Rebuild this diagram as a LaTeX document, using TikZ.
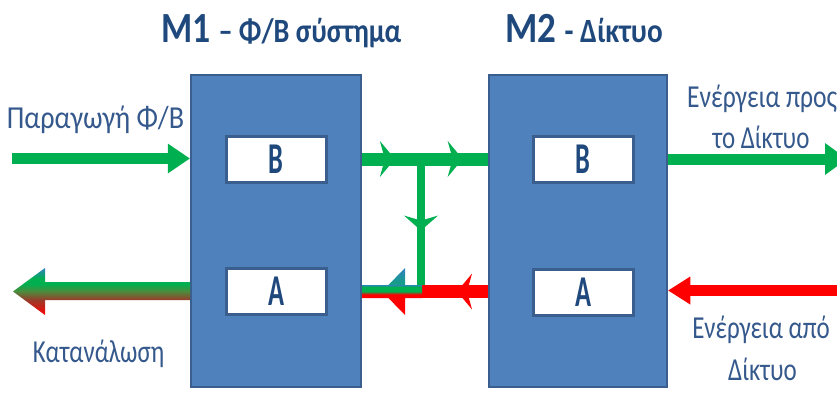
\documentclass[tikz,border=0pt]{standalone}
\usepackage{fontspec}
\usepackage{graphicx}
\setmainfont{Carlito}
\usetikzlibrary{arrows.meta,decorations.markings}

\definecolor{panelfill}{HTML}{4F81BD}
\definecolor{panelline}{HTML}{3A5F8E}
\definecolor{titleblue}{HTML}{1F497D}
\definecolor{labelblue}{HTML}{35598C}
\definecolor{flowgreen}{HTML}{00B050}
\definecolor{flowred}{HTML}{FF0000}
\definecolor{mixblue}{HTML}{2F7FC1}
\definecolor{mixteal}{HTML}{14A085}
\definecolor{mixbrown}{HTML}{9A3A2A}
\definecolor{mixolive}{HTML}{4E8A3C}

% colour blends for the mixed (PV + grid) flows
\pgfdeclareverticalshading{loadshade}{100bp}{color(0bp)=(flowred); color(25bp)=(flowred);
  color(41bp)=(mixbrown); color(50bp)=(mixolive); color(58bp)=(flowgreen);
  color(64bp)=(flowgreen); color(75bp)=(mixblue); color(100bp)=(mixblue)}
\pgfdeclareverticalshading{mixshade}{100bp}{color(0bp)=(flowred); color(25bp)=(flowred);
  color(47bp)=(flowred); color(50bp)=(flowgreen); color(55bp)=(flowgreen);
  color(57bp)=(mixblue); color(58bp)=(mixteal); color(75bp)=(mixblue); color(100bp)=(mixblue)}

\newcommand{\squeezed}[2]{\scalebox{#1}[1]{#2}}

\tikzset{
  panel/.style={draw=panelline, line width=2.5pt, fill=panelfill, inner sep=0pt},
  slot/.style={draw=panelline, line width=3pt, fill=white, inner sep=0pt,
    minimum width=100pt, minimum height=46pt, text=titleblue,
    font=\bfseries\fontsize{44}{44}\selectfont},
  title/.style={text=titleblue, font=\bfseries, inner sep=0pt, anchor=base west},
  label/.style={text=labelblue, inner sep=0pt, anchor=base,
    font=\fontsize{32}{32}\selectfont},
  flow/.style={line width=11pt},
  headtip/.style={-{Triangle[length=22pt,width=#1,line width=0pt]}},
  chevron at/.style 2 args={postaction={decorate}, decoration={markings,
    mark=at position #1 with {\arrow{Stealth[length=15pt,width=#2,inset=5pt,line width=0pt]}}}},
  chevrons at/.style n args={3}{postaction={decorate}, decoration={markings,
    mark=at position #1 with {\arrow{Stealth[length=15pt,width=#3,inset=5pt,line width=0pt]}},
    mark=at position #2 with {\arrow{Stealth[length=15pt,width=#3,inset=5pt,line width=0pt]}}}},
}

\begin{document}
\begin{tikzpicture}[x=1pt,y=-1pt]
  \useasboundingbox (0,0) rectangle (837,392);
  \fill[white] (0,0) rectangle (837,392);
  \clip (0,0) rectangle (837,392);

  % the two subsystems
  \node[panel, minimum width=170pt, minimum height=312pt] (m1) at (276,231) {};
  \node[panel, minimum width=178pt, minimum height=312pt] (m2) at (578,231) {};
  \node[slot] (b1) at (276,159) {\squeezed{0.6}{B}};
  \node[slot] (a1) at (276,291.5) {\squeezed{0.6}{A}};
  \node[slot] (b2) at (583,159) {\squeezed{0.6}{B}};
  \node[slot] (a2) at (583,292) {\squeezed{0.6}{A}};

  % titles
  \node[title] (t1) at (161,42) {\squeezed{0.83}{\fontsize{43}{43}\selectfont M1
    \fontsize{34}{34}\selectfont – Φ/Β σύστημα}};
  \node[title] (t2) at (505,42) {\squeezed{0.86}{\fontsize{43}{43}\selectfont M2
    \fontsize{34}{34}\selectfont - Δίκτυο}};

  % free ends and junctions
  \coordinate (pvsrc) at (12,158.5);
  \coordinate (split) at (421,159);
  \coordinate (merge) at (421,291.5);
  \coordinate (gridout) at (847,159);
  \coordinate (gridin) at (850,290.5);

  % PV production into M1
  \draw[flow, flowgreen, headtip=30pt] (pvsrc) -- (m1.west |- pvsrc);
  % M1 towards M2, with the branch down to the load side
  \draw[flowgreen, line width=8pt, chevron at={0.54}{34pt}] (split) -- (merge);
  \draw[flowgreen, line width=13pt, chevrons at={0.26}{0.80}{36pt}]
    (m1.east |- split) -- (m2.west |- split);
  % grid energy from M2 back to M1
  \draw[flowred, line width=13pt, chevron at={0.46}{36pt}] (m2.west |- merge) -- (merge);
  % mixed flow entering M1
  \shade[shading=mixshade]
    (362,285) -- (388.4,285) -- (405,268) -- (405,285) -- (422,285) -- (422,298)
    -- (405,298) -- (405,315) -- (388.4,298) -- (362,298) -- cycle;
  % M2 to / from the grid
  \draw[flow, flowgreen, headtip=32pt] (m2.east |- split) -- (gridout);
  \draw[flow, flowred, headtip=28pt] (gridin) -- (m2.east |- gridin);
  % consumption out of M1
  \shade[shading=loadshade]
    (190,282) -- (45,282) -- (45,268) -- (13,291.5) -- (45,315) -- (45,300)
    -- (190,300) -- cycle;

  % flow labels
  \node[label] (lpv) at (95.5,128) {\squeezed{0.88}{Παραγωγή Φ/Β}};
  \node[label] (lload) at (98.5,362) {\squeezed{0.78}{Κατανάλωση}};
  \node[label, anchor=base west] (lto1) at (687,107) {\squeezed{0.8}{Ενέργεια προς}};
  \node[label] (lto2) at (761,148) {\squeezed{0.78}{το Δίκτυο}};
  \node[label] (lfrom1) at (761,338) {\squeezed{0.78}{Ενέργεια από}};
  \node[label] (lfrom2) at (762.5,380) {\squeezed{0.78}{Δίκτυο}};
\end{tikzpicture}
\end{document}
